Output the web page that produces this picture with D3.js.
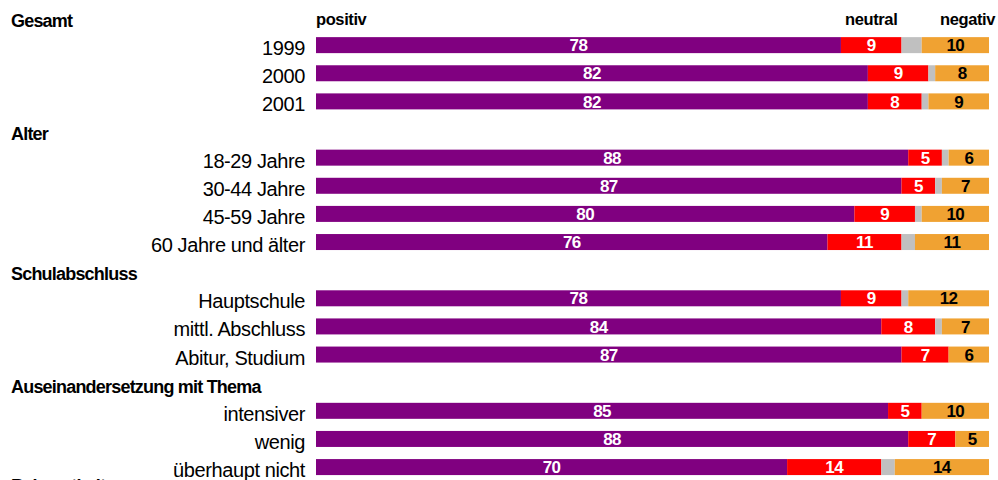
<!DOCTYPE html>
<html><head><meta charset="utf-8">
<script src="https://cdn.jsdelivr.net/npm/d3@7"></script>
<style>
html,body{margin:0;padding:0;background:#fff;overflow:hidden}
text{font-family:"Liberation Sans",Arial,sans-serif}
</style></head>
<body><svg id="c" width="998" height="480"></svg>
<script>
const groups = ["Gesamt","Alter","Schulabschluss","Auseinandersetzung mit Thema","Bekanntheit"];
const categories = ["1999","2000","2001","18-29 Jahre","30-44 Jahre","45-59 Jahre","60 Jahre und älter","Hauptschule","mittl. Abschluss","Abitur, Studium","intensiver","wenig","überhaupt nicht"];
const categoryGroup = [0,0,0,1,1,1,1,2,2,2,3,3,3];
const seriesNames = ["positiv","neutral","keine Angabe","negativ"];
const positiv = [78,82,82,88,87,80,76,78,84,87,85,88,70];
const neutral = [9,9,8,5,5,9,11,9,8,7,5,7,14];
const keineAngabe = [3,1,1,1,1,1,2,1,1,0,0,0,2];
const negativ = [10,8,9,6,7,10,11,12,7,6,10,5,14];
const colors = ["#800080","#ff0000","#c0c0c0","#f0a232"];
const labelColors = ["#fff","#fff",null,"#000"];

const svg = d3.select("#c");
const rows = [];
groups.forEach((g,gi)=>{
  rows.push({type:"header",key:"h"+gi,label:g,gi});
  categories.forEach((c,i)=>{ if(categoryGroup[i]===gi) rows.push({type:"cat",key:"c"+i,label:c,i}); });
});
const table = categories.map((c,i)=>({key:"c"+i,cat:c,positiv:positiv[i],neutral:neutral[i],"keine Angabe":keineAngabe[i],negativ:negativ[i]}));
const stack = d3.stack().keys(seriesNames)(table);

const step = 28.13, pad = 1-16/step, n = rows.length;
const y = d3.scaleBand().domain(rows.map(r=>r.key)).range([9, 9+step*(n-pad)]).paddingInner(pad).paddingOuter(0);
const x = d3.scaleLinear().domain([0,100]).range([316,989]);

// headers
svg.selectAll("text.hdr").data(rows.filter(r=>r.type==="header")).join("text")
  .attr("class","hdr").attr("x",11)
  .attr("y",r=> r.gi===groups.length-1 ? y("c"+(categories.length-1))+y.bandwidth()+17 : y(r.key)+18)
  .attr("font-size",18).attr("font-weight","bold").attr("letter-spacing","-0.8px").attr("fill","#000")
  .text(r=>r.label);

// category labels
svg.selectAll("text.cat").data(rows.filter(r=>r.type==="cat")).join("text")
  .attr("class","cat").attr("x",305).attr("y",r=>y(r.key)+y.bandwidth()/2+10)
  .attr("text-anchor","end").attr("font-size",20).attr("letter-spacing","-0.4px").attr("fill","#000")
  .text(r=>r.label);

// bars
const layers = svg.selectAll("g.layer").data(stack).join("g").attr("class","layer").attr("fill",(d,i)=>colors[i]);
layers.selectAll("rect").data(d=>d).join("rect")
  .attr("x",d=>x(d[0])).attr("width",d=>x(d[1])-x(d[0]))
  .attr("y",d=>y(d.data.key)).attr("height",y.bandwidth());

// value labels
stack.forEach((s,si)=>{
  if(!labelColors[si]) return;
  svg.append("g").selectAll("text").data(s).join("text")
    .attr("x",d=>(x(d[0])+x(d[1]))/2).attr("y",d=>y(d.data.key)+y.bandwidth()/2)
    .attr("dy","0.36em").attr("text-anchor","middle").attr("font-size",17).attr("font-weight","bold")
    .attr("letter-spacing","-0.6px").attr("fill",labelColors[si])
    .text(d=>d[1]-d[0]);
});

// legend labels
const first = stack.map(s=>s[0]);
const legY = y("h0")+16;
const leg = (t,xx,anchor)=>svg.append("text").attr("x",xx).attr("y",legY).attr("text-anchor",anchor)
  .attr("font-size",16.5).attr("font-weight","bold").attr("letter-spacing","-0.4px").text(t);
leg(seriesNames[0],x(0),"start");
leg(seriesNames[1],(x(first[1][0])+x(first[1][1]))/2,"middle");
leg(seriesNames[3],x(100)+6,"end");
</script></body></html>
